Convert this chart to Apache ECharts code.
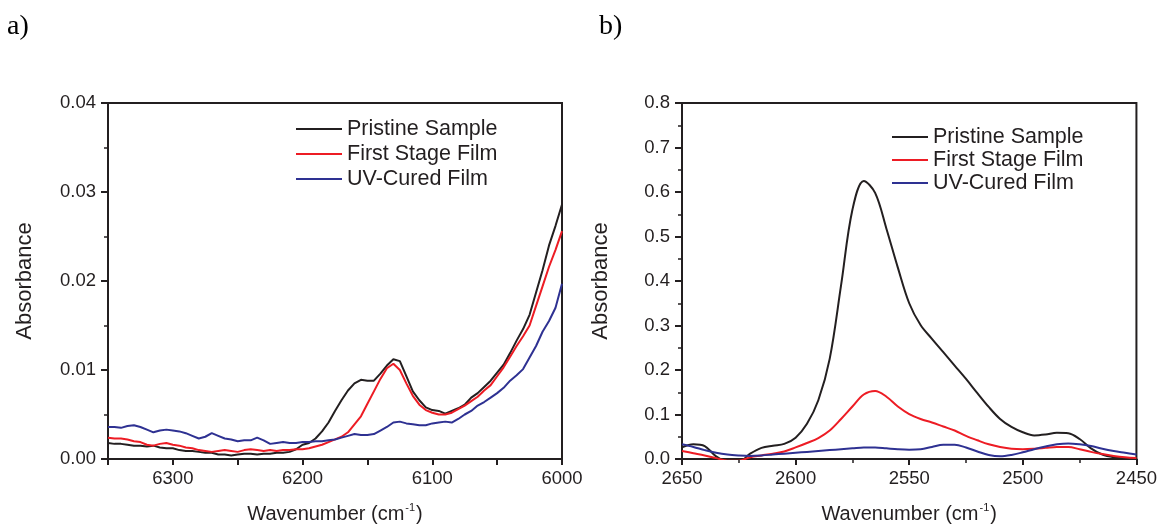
<!DOCTYPE html>
<html>
<head>
<meta charset="utf-8">
<script src="https://cdn.jsdelivr.net/npm/echarts@6/dist/echarts.min.js"></script>
<style>
  html, body { margin: 0; padding: 0; background: #fff; }
  #chart { width: 1160px; height: 529px; }
</style>
</head>
<body>
<div id="chart"></div>
<script>
// Series names
const seriesNames = ['Pristine Sample', 'First Stage Film', 'UV-Cured Film'];
const seriesColors = ['#231f20', '#ed1c24', '#2e3192'];

// Panel a) : 6350 - 6000 cm-1 overtone region
const waveA = [6350, 6345, 6340, 6335, 6330, 6325, 6320, 6315, 6310, 6305,
  6300, 6295, 6290, 6285, 6280, 6275, 6270, 6265, 6260, 6255,
  6250, 6245, 6240, 6235, 6230, 6225, 6220, 6215, 6210, 6205,
  6200, 6195, 6190, 6185, 6180, 6175, 6170, 6165, 6160, 6155,
  6150, 6145, 6140, 6135, 6130, 6125, 6120, 6115, 6110, 6105,
  6100, 6095, 6090, 6085, 6080, 6075, 6070, 6065, 6060, 6055,
  6050, 6045, 6040, 6035, 6030, 6025, 6020, 6015, 6010, 6005, 6000];

const pristineA = [0.0018, 0.0017, 0.0017, 0.0016, 0.0015, 0.0015, 0.0014, 0.0015, 0.0013, 0.0012,
  0.0012, 0.0010, 0.0009, 0.0009, 0.0008, 0.0007, 0.0007, 0.0005, 0.0005, 0.0004,
  0.0005, 0.0006, 0.0006, 0.0005, 0.0006, 0.0006, 0.0007, 0.0007, 0.0008, 0.0011,
  0.0016, 0.0018, 0.0023, 0.0031, 0.0041, 0.0054, 0.0066, 0.0077, 0.0085, 0.0089,
  0.0088, 0.0088, 0.0096, 0.0105, 0.0112, 0.0110, 0.0093, 0.0076, 0.0066, 0.0058,
  0.0055, 0.0054, 0.0051, 0.0054, 0.0057, 0.0061, 0.0069, 0.0074, 0.0081, 0.0088,
  0.0097, 0.0106, 0.0119, 0.0133, 0.0146, 0.0162, 0.0187, 0.0212, 0.0240, 0.0262, 0.0286];

const firstStageA = [0.0024, 0.0023, 0.0023, 0.0022, 0.0020, 0.0019, 0.0016, 0.0015, 0.0017, 0.0018,
  0.0016, 0.0015, 0.0013, 0.0012, 0.0010, 0.0009, 0.0008, 0.0009, 0.0010, 0.0009,
  0.0008, 0.0010, 0.0011, 0.0010, 0.0009, 0.0010, 0.0009, 0.0010, 0.0010, 0.0011,
  0.0011, 0.0012, 0.0014, 0.0016, 0.0019, 0.0022, 0.0025, 0.0030, 0.0039, 0.0048,
  0.0062, 0.0076, 0.0090, 0.0102, 0.0107, 0.0100, 0.0085, 0.0071, 0.0061, 0.0055,
  0.0052, 0.0050, 0.0050, 0.0052, 0.0056, 0.0060, 0.0065, 0.0070, 0.0077, 0.0083,
  0.0093, 0.0103, 0.0115, 0.0127, 0.0138, 0.0150, 0.0172, 0.0194, 0.0216, 0.0235, 0.0256];

const uvCuredA = [0.0036, 0.0036, 0.0035, 0.0037, 0.0038, 0.0036, 0.0033, 0.0030, 0.0032, 0.0033,
  0.0032, 0.0031, 0.0029, 0.0026, 0.0023, 0.0025, 0.0029, 0.0026, 0.0023, 0.0022,
  0.0020, 0.0021, 0.0021, 0.0024, 0.0021, 0.0017, 0.0018, 0.0019, 0.0018, 0.0018,
  0.0019, 0.0019, 0.0020, 0.0020, 0.0021, 0.0022, 0.0024, 0.0026, 0.0028, 0.0027,
  0.0027, 0.0028, 0.0032, 0.0036, 0.0041, 0.0042, 0.0040, 0.0039, 0.0038, 0.0038,
  0.0040, 0.0041, 0.0042, 0.0041, 0.0045, 0.0050, 0.0054, 0.0060, 0.0064, 0.0069,
  0.0074, 0.0080, 0.0088, 0.0094, 0.0101, 0.0114, 0.0127, 0.0143, 0.0155, 0.0170, 0.0197];

// Panel b) : 2650 - 2450 cm-1 S-H stretch region
const waveB = [2650, 2645, 2640, 2635, 2630, 2625, 2620, 2615, 2610, 2605,
  2600, 2595, 2590, 2585, 2580, 2575, 2570, 2565, 2560, 2555,
  2550, 2545, 2540, 2535, 2530, 2525, 2520, 2515, 2510, 2505,
  2500, 2495, 2490, 2485, 2480, 2475, 2470, 2465, 2460, 2455, 2450];

const pristineB = [0.026, 0.033, 0.029, 0.006, -0.006, -0.006, 0.012, 0.025, 0.030, 0.034,
  0.048, 0.079, 0.132, 0.225, 0.390, 0.560, 0.625, 0.598, 0.517, 0.430,
  0.350, 0.301, 0.270, 0.240, 0.210, 0.180, 0.148, 0.117, 0.090, 0.072,
  0.060, 0.053, 0.055, 0.059, 0.058, 0.045, 0.024, 0.010, 0.004, 0.002, 0.001];

const firstStageB = [0.018, 0.013, 0.008, 0.002, -0.004, -0.004, 0.004, 0.008, 0.012, 0.017,
  0.026, 0.036, 0.047, 0.064, 0.090, 0.118, 0.145, 0.153, 0.140, 0.118,
  0.101, 0.090, 0.082, 0.073, 0.064, 0.052, 0.042, 0.033, 0.027, 0.023,
  0.022, 0.023, 0.025, 0.027, 0.027, 0.022, 0.016, 0.011, 0.007, 0.004, 0.002];

const uvCuredB = [0.033, 0.027, 0.020, 0.014, 0.010, 0.008, 0.007, 0.008, 0.010, 0.012,
  0.014, 0.016, 0.018, 0.020, 0.022, 0.024, 0.026, 0.026, 0.024, 0.022,
  0.021, 0.022, 0.027, 0.032, 0.032, 0.026, 0.017, 0.009, 0.006, 0.009,
  0.015, 0.022, 0.028, 0.033, 0.035, 0.033, 0.029, 0.023, 0.018, 0.014, 0.010];

// Axis ranges and tick steps
const axisA = { xMin: 6000, xMax: 6350, xStep: 50, xLabelStep: 100, yMin: 0, yMax: 0.04, yStep: 0.01, yDigits: 2 };
const axisB = { xMin: 2450, xMax: 2650, xStep: 50, xLabelStep: 50, yMin: 0, yMax: 0.8, yStep: 0.1, yDigits: 1 };

const FONT = 'Liberation Sans, Arial, sans-serif';
const INK = '#231f20';

function zip(xs, ys) { return xs.map((x, i) => [x, ys[i]]); }

function xAxisFor(gridIndex, ax, minor) {
  return {
    type: 'value', gridIndex: gridIndex, inverse: true,
    min: ax.xMin, max: ax.xMax, interval: ax.xStep,
    name: '{t|Wavenumber (cm}{s|-1}{t|)}',
    nameLocation: 'middle', nameGap: 43,
    nameTextStyle: {
      rich: {
        t: { fontFamily: FONT, fontSize: 20, color: INK, lineHeight: 24 },
        s: { fontFamily: FONT, fontSize: 11, color: INK, lineHeight: 24, verticalAlign: 'top', padding: [0, 1, 8, 1] }
      }
    },
    axisLine: { show: true, onZero: false, lineStyle: { color: INK, width: 2 } },
    axisTick: { show: true, inside: false, length: 6, lineStyle: { color: INK, width: 2 } },
    minorTick: { show: minor, splitNumber: 2, length: 4, lineStyle: { color: INK, width: 1.5 } },
    splitLine: { show: false },
    axisLabel: {
      fontFamily: FONT, fontSize: 18.5, color: INK, margin: 10,
      formatter: function (v) { return (Math.round(v) % ax.xLabelStep === 0) ? String(Math.round(v)) : ''; }
    }
  };
}

function yAxisFor(gridIndex, ax, gap) {
  return {
    type: 'value', gridIndex: gridIndex,
    min: ax.yMin, max: ax.yMax, interval: ax.yStep,
    name: 'Absorbance', nameLocation: 'middle', nameGap: gap,
    nameTextStyle: { fontFamily: FONT, fontSize: 22, color: INK },
    axisLine: { show: true, onZero: false, lineStyle: { color: INK, width: 2 } },
    axisTick: { show: true, inside: false, length: 7, lineStyle: { color: INK, width: 2 } },
    minorTick: { show: true, splitNumber: 2, length: 4, lineStyle: { color: INK, width: 1.5 } },
    splitLine: { show: false },
    axisLabel: {
      fontFamily: FONT, fontSize: 18.5, color: INK, margin: 12,
      formatter: function (v) { return v.toFixed(ax.yDigits); }
    }
  };
}

function lineSeries(name, idx, data, axisIndex, smooth) {
  return {
    type: 'line', name: name, data: data,
    xAxisIndex: axisIndex, yAxisIndex: axisIndex,
    showSymbol: false, smooth: smooth, clip: true,
    lineStyle: { color: seriesColors[idx], width: 2 },
    itemStyle: { color: seriesColors[idx] },
    emphasis: { disabled: true }
  };
}

function legendFor(left, top, iconWidth, gap) {
  return {
    orient: 'vertical', left: left, top: top,
    icon: 'rect', itemWidth: iconWidth, itemHeight: 2, itemGap: gap,
    data: seriesNames,
    selectedMode: false,
    textStyle: { fontFamily: FONT, fontSize: 21.5, color: INK, lineHeight: 22, padding: [0, 0, 0, 0] }
  };
}

const chart = echarts.init(document.getElementById('chart'), null, { renderer: 'canvas' });

chart.setOption({
  animation: false,
  backgroundColor: '#ffffff',
  grid: [
    { left: 108, top: 103, width: 454, height: 360, show: true, borderColor: INK, borderWidth: 2, backgroundColor: 'transparent' },
    { left: 682, top: 103, width: 455, height: 359, show: true, borderColor: INK, borderWidth: 2, backgroundColor: 'transparent' }
  ],
  xAxis: [xAxisFor(0, axisA, false), xAxisFor(1, axisB, true)],
  yAxis: [yAxisFor(0, axisA, 72), yAxisFor(1, axisB, 70)],
  legend: [legendFor(291, 113, 46, 3), legendFor(887, 121, 36, 1)],
  graphic: [
    { type: 'text', left: 7, top: 13, style: { text: 'a)', font: '28px "Liberation Serif", "Times New Roman", serif', fill: '#000' } },
    { type: 'text', left: 599, top: 13, style: { text: 'b)', font: '28px "Liberation Serif", "Times New Roman", serif', fill: '#000' } }
  ],
  series: [
    lineSeries(seriesNames[0], 0, zip(waveA, pristineA), 0, false),
    lineSeries(seriesNames[1], 1, zip(waveA, firstStageA), 0, false),
    lineSeries(seriesNames[2], 2, zip(waveA, uvCuredA), 0, false),
    lineSeries(seriesNames[0], 0, zip(waveB, pristineB), 1, 0.35),
    lineSeries(seriesNames[1], 1, zip(waveB, firstStageB), 1, 0.35),
    lineSeries(seriesNames[2], 2, zip(waveB, uvCuredB), 1, 0.35)
  ]
});
</script>
</body>
</html>
